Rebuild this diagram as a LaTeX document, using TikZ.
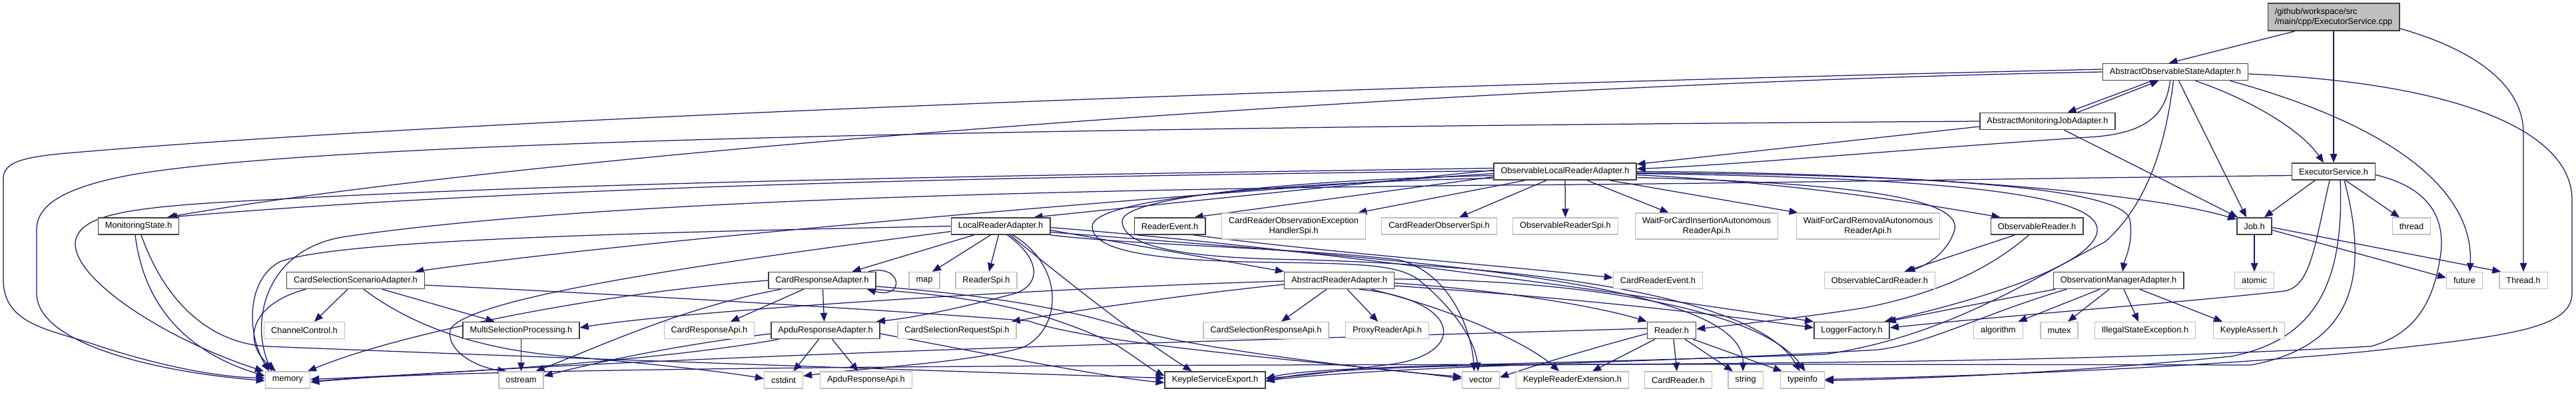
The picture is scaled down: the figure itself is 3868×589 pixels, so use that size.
\documentclass[tikz,border=0pt]{standalone}
\usepackage{fontspec}
\setmainfont{Liberation Sans}
\usetikzlibrary{arrows.meta}
\pgfdeclarelayer{bg}
\pgfdeclarelayer{edgelayer}
\pgfsetlayers{bg,edgelayer,main}
\definecolor{edgec}{HTML}{191970}
\definecolor{extc}{HTML}{BFBFBF}
\definecolor{docc}{HTML}{404040}
\tikzset{
  base/.style={rectangle, minimum height=25pt, inner xsep=10.5pt, inner ysep=3pt,
    font=\fontsize{12.8pt}{15pt}\selectfont, text=black, fill=white},
  doc/.style={base, draw=docc, line width=1.6pt},
  ext/.style={base, draw=extc, line width=1.3pt},
  two/.style={align=center, minimum height=39pt},
  rootn/.style={base, draw=docc, fill=extc, line width=1.6pt, align=left, minimum height=41pt},
  e/.style={draw=edgec, line width=1.25pt, -{Triangle[length=13pt,width=10.5pt]}}
}
\begin{document}
\begin{tikzpicture}[x=1pt,y=-1pt]
\begin{pgfonlayer}{bg}
\fill[white] (0,0) rectangle (3868,589);
\end{pgfonlayer}
\useasboundingbox (0,0) rectangle (3868,589);
% row 0-3
\node[rootn] (root) at (3504,25.5) {/github/workspace/src\\/main/cpp/ExecutorService.cpp};
\node[doc] (AOSA) at (3266.5,108) {AbstractObservableStateAdapter.h};
\node[doc] (AMJA) at (3074.5,182) {AbstractMonitoringJobAdapter.h};
\node[doc] (OLRA) at (2350,257.5) {ObservableLocalReaderAdapter.h};
\node[doc] (ES) at (3504,257.5) {ExecutorService.h};
% row 4
\node[doc] (MS) at (208,339.5) {MonitoringState.h};
\node[doc] (LRA) at (1502.5,339.5) {LocalReaderAdapter.h};
\node[doc] (RE) at (1756.5,339.5) {ReaderEvent.h};
\node[ext,two] (CROEHS) at (1942.5,339.5) {CardReaderObservationException\\HandlerSpi.h};
\node[ext] (CROS) at (2161,339.5) {CardReaderObserverSpi.h};
\node[ext] (ORS) at (2350.5,339.5) {ObservableReaderSpi.h};
\node[ext,two] (WFCI) at (2562.5,339.5) {WaitForCardInsertionAutonomous\\ReaderApi.h};
\node[ext,two] (WFCR) at (2805,339.5) {WaitForCardRemovalAutonomous\\ReaderApi.h};
\node[doc] (OR) at (3058.5,339.5) {ObservableReader.h};
\node[doc] (Job) at (3385,339.5) {Job.h};
\node[ext] (thread) at (3621,339.5) {thread};
% row 5
\node[doc] (CSSA) at (534,421) {CardSelectionScenarioAdapter.h};
\node[doc] (CRA) at (1234.5,421) {CardResponseAdapter.h};
\node[ext] (map) at (1388,421) {map};
\node[ext] (ReaderSpi) at (1481,421) {ReaderSpi.h};
\node[doc] (ARA) at (2011,421) {AbstractReaderAdapter.h};
\node[ext] (CRE) at (2489.5,421) {CardReaderEvent.h};
\node[ext] (OCR) at (2822.5,421) {ObservableCardReader.h};
\node[doc] (OMA) at (3181,421) {ObservationManagerAdapter.h};
\node[ext] (atomic) at (3385,421) {atomic};
\node[ext] (future) at (3700.5,421) {future};
\node[ext] (ThreadH) at (3789,421) {Thread.h};
% row 6
\node[ext] (CC) at (457,496) {ChannelControl.h};
\node[doc] (MSP) at (782.5,496) {MultiSelectionProcessing.h};
\node[ext] (CRApi) at (1065,496) {CardResponseApi.h};
\node[doc] (ARAd) at (1239.5,496) {ApduResponseAdapter.h};
\node[ext] (CSRS) at (1437,496) {CardSelectionRequestSpi.h};
\node[ext] (CSRA) at (1901,496) {CardSelectionResponseApi.h};
\node[ext] (PRA) at (2083,496) {ProxyReaderApi.h};
\node[doc] (Reader) at (2510,496) {Reader.h};
\node[doc] (LF) at (2780.5,496) {LoggerFactory.h};
\node[ext] (algorithm) at (3000.5,496) {algorithm};
\node[ext] (mutex) at (3092,496) {mutex};
\node[ext] (ISE) at (3221,496) {IllegalStateException.h};
\node[ext] (KA) at (3377,496) {KeypleAssert.h};
% row 7
\node[ext] (memory) at (432,570.5) {memory};
\node[ext] (ostream) at (782.5,570.5) {ostream};
\node[ext] (cstdint) at (1176.5,570.5) {cstdint};
\node[ext] (ARApi) at (1300.5,570.5) {ApduResponseApi.h};
\node[doc] (KSE) at (1824.5,570.5) {KeypleServiceExport.h};
\node[ext] (vector) at (2223.5,570.5) {vector};
\node[ext] (KRE) at (2361,570.5) {KeypleReaderExtension.h};
\node[ext] (CR) at (2520,570.5) {CardReader.h};
\node[ext] (string) at (2621,570.5) {string};
\node[ext] (typeinfo) at (2706.5,570.5) {typeinfo};

\begin{pgfonlayer}{edgelayer}
% root
\draw[e] ([xshift=-58pt]root.south) -- ([xshift=-10pt]AOSA.north);
\draw[e] (root.south) -- (ES.north);
\draw[e] ([yshift=4pt]root.south east) .. controls (3700,70) and (3789,120) .. (3789,200) -- (ThreadH.north);
% AOSA
\draw[e] ([xshift=-35pt]AOSA.south) -- ([xshift=30pt]AMJA.north);
\draw[e] ([xshift=-8pt]AOSA.south) .. controls (3252,175) and (3220,198) .. (3150,205) .. controls (2850,225) and (2600,248) .. ([yshift=4pt]OLRA.east);
\draw[e] ([xshift=30pt]AOSA.south) .. controls (3380,150) and (3455,195) .. ([xshift=-15pt]ES.north);
\draw[e] ([xshift=5pt]AOSA.south) -- ([xshift=-12pt]Job.north);
\draw[e] ([xshift=82pt]AOSA.south) .. controls (3600,190) and (3715,290) .. ([xshift=8pt]future.north);
\draw[e] ([yshift=-3pt]AOSA.east) .. controls (3700,125) and (3862,200) .. (3862,300) -- (3862,440) .. controls (3862,495) and (3760,505) .. (3550,528) .. controls (3250,556) and (2900,566) .. ([yshift=1pt]typeinfo.east);
\draw[e] ([xshift=-3pt]AOSA.south) .. controls (3250,230) and (3220,310) .. (3161,363) .. controls (3040,425) and (2920,505) .. (2740,532) .. controls (2300,548) and (1980,548) .. ([yshift=2pt]KSE.east);
\draw[e] (AOSA.west) .. controls (2200,125) and (800,230) .. ([xshift=43pt]MS.north);
\draw[e] ([yshift=4pt]AOSA.west) .. controls (2000,130) and (700,178) .. (100,230) .. controls (30,236) and (5,245) .. (5,268) -- (5,420) .. controls (5,490) and (80,495) .. (150,520) .. controls (250,552) and (330,566) .. ([yshift=3pt]memory.west);
% AMJA
\draw[e] ([xshift=45pt]AMJA.north) -- ([xshift=-25pt]AOSA.south);
\draw[e] ([yshift=-8pt]AMJA.west) -- ([yshift=11pt]OLRA.east);
\draw[e] ([xshift=25pt]AMJA.south) -- ([xshift=2pt]Job.north west);
\draw[e] (AMJA.west) .. controls (1500,192) and (500,212) .. (200,262) .. controls (90,282) and (55,310) .. (55,345) -- (55,440) .. controls (55,520) and (250,560) .. ([yshift=-1pt]memory.west);
% OLRA fan
\draw[e] ([xshift=-60pt]OLRA.south) -- ([xshift=-12pt]CROEHS.north east);
\draw[e] ([xshift=-28pt]OLRA.south) -- ([xshift=30pt]CROS.north);
\draw[e] (OLRA.south) -- (ORS.north);
\draw[e] ([xshift=33pt]OLRA.south) -- ([xshift=-57pt]WFCI.north);
\draw[e] ([xshift=67pt]OLRA.south) -- ([xshift=3pt]WFCR.north west);
\draw[e] ([yshift=-5pt]OLRA.east) .. controls (2700,275) and (2880,305) .. ([xshift=-55pt]OR.north);
\draw[e] ([yshift=-9pt]OLRA.east) .. controls (2800,275) and (2945,300) .. (2935,345) .. controls (2925,378) and (2895,398) .. ([xshift=40pt]OCR.north);
\draw[e] ([yshift=-2pt]OLRA.east) .. controls (2900,262) and (3190,282) .. (3198,330) .. controls (3204,365) and (3190,390) .. ([xshift=6pt]OMA.north);
\draw[e] (OLRA.east) .. controls (2800,258) and (3200,283) .. ([yshift=-3pt]Job.north west);
\draw[e] ([yshift=-3pt]OLRA.east) .. controls (3000,268) and (3165,300) .. (3148,352) .. controls (3130,405) and (2950,455) .. ([xshift=-8pt]LF.north east);
\draw[e] ([yshift=2pt]OLRA.west) -- ([xshift=-25pt]LRA.north east);
\draw[e] ([yshift=-8pt]OLRA.west) -- ([xshift=37pt]RE.north);
\draw[e] ([yshift=-3pt]OLRA.west) .. controls (1800,290) and (1000,355) .. ([xshift=-15pt]CSSA.north east);
\draw[e] ([yshift=1pt]OLRA.west) .. controls (1500,265) and (800,280) .. ([xshift=45pt]MS.north);
\draw[e] ([yshift=5pt]OLRA.west) .. controls (1600,262) and (900,272) .. (400,300) .. controls (200,310) and (118,320) .. (113,364) .. controls (110,420) and (250,510) .. ([xshift=-36pt]memory.north);
\draw[e] ([yshift=-10pt]OLRA.west) .. controls (1900,275) and (1640,300) .. (1640,340) .. controls (1640,382) and (1760,392) .. (1920,394) .. controls (2050,396) and (2100,398) .. (2130,420) .. controls (2180,460) and (2215,510) .. ([xshift=-4pt]vector.north);
\draw[e] ([yshift=-6pt]OLRA.west) .. controls (1950,270) and (1685,295) .. (1685,332) .. controls (1685,375) and (1800,388) .. (1960,390) .. controls (2300,400) and (2640,445) .. ([xshift=-4pt]typeinfo.north);
% LRA
\draw[e] ([xshift=-40pt]LRA.south) -- ([xshift=45pt]CRA.north);
\draw[e] ([xshift=-15pt]LRA.south) -- ([xshift=12pt]map.north);
\draw[e] ([xshift=-3pt]LRA.south) -- ([xshift=4pt]ReaderSpi.north);
\draw[e] ([xshift=10pt]LRA.south) .. controls (1565,390) and (1565,432) .. (1515,443) .. controls (1450,460) and (1380,476) .. ([xshift=-6pt]ARAd.north east);
\draw[e] ([xshift=18pt]LRA.south) .. controls (1600,400) and (1595,495) .. (1535,522) .. controls (1450,545) and (1300,552) .. ([yshift=6pt]cstdint.east);
\draw[e] ([xshift=14pt]LRA.south) .. controls (1600,420) and (1700,500) .. ([xshift=-35pt]KSE.north);
\draw[e] ([yshift=-6pt]LRA.east) -- (ARA.north west);
\draw[e] (LRA.south east) .. controls (1700,368) and (1950,372) .. (2100,390) .. controls (2180,410) and (2210,500) .. ([xshift=-10pt]vector.north);
\draw[e] (LRA.west) .. controls (900,350) and (500,362) .. (420,393) .. controls (370,420) and (370,500) .. ([xshift=-28pt]memory.north);
\draw[e] ([yshift=-8pt]LRA.west) .. controls (1100,390) and (700,445) .. (676,495) .. controls (670,530) and (720,552) .. ([xshift=-22pt]ostream.north);
\draw[e] ([yshift=-2pt]LRA.east) .. controls (2000,375) and (2500,450) .. (LF.north west);
\draw[e] ([yshift=-9pt]LRA.east) .. controls (2100,390) and (2620,420) .. ([xshift=-4pt]string.north);
% RE
\draw[e] ([xshift=35pt]RE.south) .. controls (2000,380) and (2250,398) .. ([yshift=4pt]CRE.west);
% MS
\draw[e] ([xshift=-5pt]MS.south) .. controls (215,450) and (270,525) .. ([yshift=6pt]memory.west);
\draw[e] ([xshift=4pt]MS.south) .. controls (250,460) and (320,515) .. (400,520) .. controls (900,540) and (1500,560) .. ([yshift=3pt]KSE.west);
% CSSA
\draw[e] ([xshift=-75pt]CSSA.south) .. controls (380,455) and (360,510) .. ([xshift=-18pt]memory.north);
\draw[e] ([xshift=-12pt]CSSA.south) -- ([xshift=15pt]CC.north);
\draw[e] ([xshift=40pt]CSSA.south) -- ([xshift=-40pt]MSP.north);
\draw[e] ([xshift=12pt]CSSA.south) .. controls (620,490) and (720,525) .. (850,535) .. controls (1000,548) and (1100,560) .. ([yshift=2pt]cstdint.west);
\draw[e] ([yshift=-7pt]CSSA.east) .. controls (1000,445) and (1400,470) .. (1545,482) .. controls (1650,520) and (2050,548) .. ([yshift=2pt]vector.west);
% CRA
\draw[e] ([xshift=-12pt]CRA.north east) .. controls (1355,395) and (1360,450) .. ([xshift=-14pt]CRA.south east);
\draw[e] ([xshift=-28pt]CRA.south) -- ([xshift=32pt]CRApi.north);
\draw[e] ([xshift=1pt]CRA.south) -- ([xshift=-2pt]ARAd.north);
\draw[e] ([xshift=-62pt]CRA.south) .. controls (1030,460) and (900,520) .. ([xshift=22pt]ostream.north);
\draw[e] (CRA.west) .. controls (900,440) and (600,500) .. ([xshift=30pt]memory.north);
\draw[e] ([xshift=-5pt]CRA.south east) .. controls (1450,445) and (1560,460) .. (1680,520) .. controls (1710,540) and (1730,555) .. ([yshift=6pt]KSE.west);
\draw[e] ([yshift=-9pt]CRA.east) .. controls (1450,440) and (1600,460) .. (1700,495) .. controls (1780,520) and (2050,555) .. ([yshift=5pt]vector.west);
% ARAd
\draw[e] ([xshift=-10pt]ARAd.south) -- ([xshift=15pt]cstdint.north);
\draw[e] ([xshift=10pt]ARAd.south) -- ([xshift=-12pt]ARApi.north);
\draw[e] ([yshift=-5pt]ARAd.west) .. controls (1000,520) and (880,548) .. ([yshift=6pt]ostream.east);
\draw[e] ([xshift=-70pt]ARAd.south) .. controls (1000,540) and (700,560) .. ([yshift=1pt]memory.east);
\draw[e] ([yshift=-5pt]ARAd.east) .. controls (1450,525) and (1650,565) .. ([yshift=-4pt]KSE.west);
% MSP
\draw[e] (MSP.south) -- (ostream.north);
% ARA
\draw[e] ([xshift=-19pt]ARA.south) -- ([xshift=23pt]CSRA.north);
\draw[e] ([xshift=12pt]ARA.south) -- ([xshift=-14pt]PRA.north);
\draw[e] ([yshift=-6pt]ARA.west) .. controls (1800,440) and (1620,465) .. ([xshift=-8pt]CSRS.north east);
\draw[e] ([yshift=-1pt]ARA.west) .. controls (1500,435) and (1000,470) .. ([yshift=4pt]MSP.east);
\draw[e] ([yshift=-4pt]ARA.east) .. controls (2250,435) and (2400,460) .. (Reader.north west);
\draw[e] ([yshift=-8pt]ARA.east) .. controls (2400,450) and (2600,475) .. ([yshift=4pt]LF.west);
\draw[e] ([xshift=48pt]ARA.south) .. controls (2200,470) and (2300,520) .. ([xshift=-20pt]KRE.north);
\draw[e] ([xshift=30pt]ARA.south) .. controls (2200,450) and (2205,535) .. (2080,548) .. controls (2000,558) and (1950,565) .. ([yshift=3pt]KSE.east);
\draw[e] ([yshift=2pt]ARA.east) .. controls (2400,420) and (2650,470) .. ([xshift=4pt]typeinfo.north);
% Reader
\draw[e] ([yshift=-5pt]Reader.west) .. controls (2400,520) and (2300,550) .. ([yshift=4pt]vector.east);
\draw[e] ([xshift=-25pt]Reader.south) -- ([xshift=30pt]KRE.north);
\draw[e] ([xshift=3pt]Reader.south) -- ([xshift=-2pt]CR.north);
\draw[e] ([xshift=20pt]Reader.south) -- ([xshift=-19pt]string.north);
\draw[e] ([xshift=32pt]Reader.south) -- ([xshift=3pt]typeinfo.north west);
\draw[e] ([yshift=3pt]Reader.west) .. controls (2100,505) and (1000,530) .. ([yshift=-3pt]memory.east);
% OR
\draw[e] ([xshift=-33pt]OR.south) -- ([xshift=37pt]OCR.north);
\draw[e] ([xshift=-12pt]OR.south) .. controls (2980,410) and (2900,442) .. (2800,462) .. controls (2700,478) and (2600,488) .. ([yshift=2pt]Reader.east);
% OMA
\draw[e] ([xshift=-95pt]OMA.south) .. controls (3000,450) and (2900,470) .. ([xshift=-4pt]LF.north east);
\draw[e] ([xshift=-28pt]OMA.south) -- ([xshift=30pt]algorithm.north);
\draw[e] ([xshift=-14pt]OMA.south) -- ([xshift=13pt]mutex.north);
\draw[e] ([xshift=8pt]OMA.south) -- ([xshift=-10pt]ISE.north);
\draw[e] ([xshift=32pt]OMA.south) -- ([xshift=-40pt]KA.north);
\draw[e] ([xshift=-78pt]OMA.south) .. controls (2980,470) and (2900,515) .. (2820,525) .. controls (2500,545) and (2100,548) .. ([yshift=-1pt]KSE.east);
% ES
\draw[e] ([xshift=-28pt]ES.south) -- ([xshift=15pt]Job.north);
\draw[e] ([xshift=18pt]ES.south) -- ([xshift=-18pt]thread.north);
\draw[e] ([xshift=-6pt]ES.south) .. controls (3475,370) and (3470,430) .. (3430,437) .. controls (3300,452) and (3000,475) .. ([yshift=4pt]LF.east);
\draw[e] ([xshift=10pt]ES.south) .. controls (3520,420) and (3480,510) .. (3350,535) .. controls (3100,560) and (2900,568) .. ([yshift=-1pt]typeinfo.east);
\draw[e] ([xshift=16pt]ES.south) .. controls (3560,420) and (3530,520) .. (3380,548) .. controls (2000,545) and (700,548) .. ([yshift=-3pt]memory.east);
\draw[e] ([yshift=-5pt]ES.east) .. controls (3640,280) and (3672,320) .. (3665,380) .. controls (3655,450) and (3630,500) .. (3560,520) .. controls (3100,545) and (2600,545) .. (2300,548) .. controls (2050,550) and (1950,560) .. ([yshift=-2pt]KSE.east);
\draw[e] ([yshift=-6pt]ES.west) .. controls (3000,268) and (2600,276) .. (2242,278) .. controls (1600,285) and (900,300) .. (520,355) .. controls (400,372) and (375,480) .. ([xshift=-24pt]memory.north);
% Job
\draw[e] (Job.south) -- (atomic.north);
\draw[e] ([yshift=-6pt]Job.east) -- ([yshift=4pt]future.west);
\draw[e] ([yshift=-2pt]Job.east) -- ([xshift=3pt]ThreadH.north west);
\end{pgfonlayer}
\end{tikzpicture}
\end{document}
